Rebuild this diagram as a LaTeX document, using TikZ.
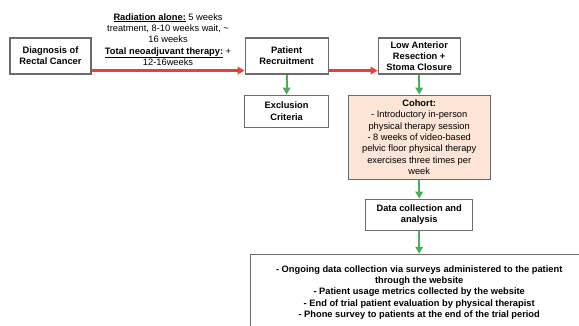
\documentclass[tikz,border=0pt]{standalone}
\usepackage{fontspec}
\setmainfont{Liberation Sans}
\usepackage{xcolor}
\usepackage{tikz}
\usetikzlibrary{arrows.meta,positioning}

\definecolor{boxline}{HTML}{6B6B6B}
\definecolor{cohortfill}{HTML}{FCE4D6}
\definecolor{timeline}{HTML}{E8413A}
\definecolor{flowgreen}{HTML}{46B058}

\begin{document}
\begin{tikzpicture}[
        x=1pt, y=1pt,
        block/.style={
            rectangle, draw=boxline, line width=1.1pt,
            minimum height=36pt, inner sep=2pt,
            align=center, font=\fontsize{9.3}{11.3}\selectfont\bfseries
        },
        cohortblock/.style={
            block, fill=cohortfill, minimum width=142pt, minimum height=84pt,
            font=\fontsize{9.3}{11.3}\selectfont
        },
        redarrow/.style={-{Triangle[length=7pt,width=7.5pt]}, line width=2.2pt, timeline},
        greenarrow/.style={-{Triangle[length=7pt,width=7.5pt]}, line width=2.2pt, flowgreen}
    ]

    \clip (0,0) rectangle (579,-325);
    \fill[white] (0,0) rectangle (579,-325);

    % Top row
    \node[block, minimum width=81pt] (diag) at (50.5,-56) {Diagnosis of\\Rectal Cancer};
    \node[block, minimum width=83pt, right=153pt of diag] (recruit) {Patient\\Recruitment};
    \node[block, minimum width=82pt, right=49pt of recruit] (lar) {Low Anterior\\Resection +\\Stoma Closure};

    % Branches below
    \node[block, minimum width=84pt, minimum height=32pt, below=20pt of recruit] (excl) {Exclusion\\Criteria};
    \node[cohortblock, below=20pt of lar] (cohort) {\textbf{Cohort:}\\- Introductory in-person\\physical therapy session\\- 8 weeks of video-based\\pelvic floor physical therapy\\exercises three times per\\week};
    \node[block, minimum width=107pt, minimum height=31pt, below=19pt of cohort] (data) {Data collection and\\analysis};
    \node[block, minimum width=338pt, minimum height=76pt, below=23pt of data] (methods) {- Ongoing data collection via surveys administered to the patient\\through the website\\- Patient usage metrics collected by the website\\- End of trial patient evaluation by physical therapist\\- Phone survey to patients at the end of the trial period};

    % Timeline arrows
    \draw[redarrow] ([yshift=4pt]diag.south east) -- ([yshift=4pt]recruit.south west)
        node[midway, above=4pt, inner sep=0pt, align=center, text=black,
             font=\fontsize{9.3}{11.3}\selectfont]
        {\underline{\textbf{Radiation alone:}} 5 weeks\\treatment, 8-10 weeks wait, \textasciitilde\\16 weeks\\\underline{\textbf{Total neoadjuvant therapy:}} +\\12-16weeks};
    \draw[redarrow] ([yshift=4pt]recruit.south east) -- ([yshift=4pt]lar.south west);

    % Flow downwards
    \draw[greenarrow] (recruit) -- (excl);
    \draw[greenarrow] (lar) -- (cohort);
    \draw[greenarrow] (cohort) -- (data);
    \draw[greenarrow] (data) -- (data |- methods.north);

\end{tikzpicture}
\end{document}
